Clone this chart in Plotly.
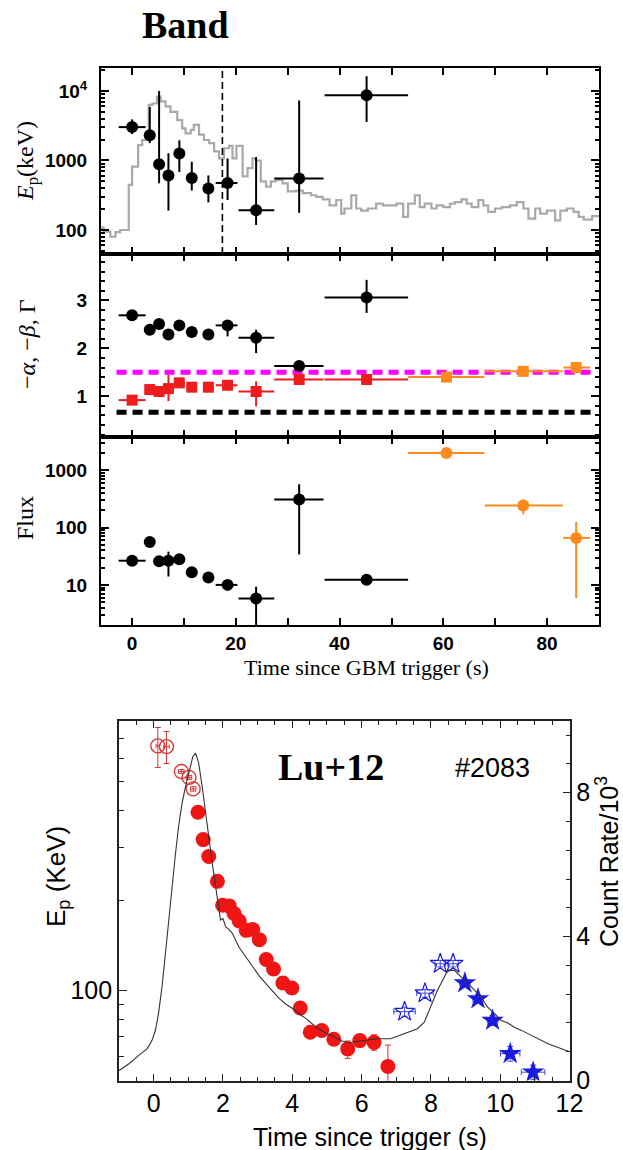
import math
import plotly.graph_objects as go

W, H = 623, 1150

# ---------------- Upper figure: Band-function time-resolved fit ----------------
# time bins (s): centre, lower and upper edge
t_band = [0.0, 3.4, 5.2, 7.0, 9.1, 11.5, 14.7, 18.4, 23.9, 32.2, 45.2]
t_band_lo = [-2.6, 2.4, 4.2, 6.0, 8.1, 10.5, 13.7, 16.1, 20.5, 27.4, 37.1]
t_band_hi = [2.6, 4.4, 6.2, 8.0, 10.1, 12.5, 15.7, 20.3, 27.4, 36.9, 53.2]

# peak energy (keV)
ep_band = [3020, 2300, 880, 610, 1260, 560, 395, 475, 192, 550, 8650]
ep_band_hi = [3900, 5900, 10000, 1270, 1950, 960, 610, 1070, 1120, 7300, 16300]
ep_band_lo = [2400, 1780, 470, 190, 685, 370, 250, 270, 118, 177, 3580]

# -beta (black) and -alpha (red)
beta = [2.69, 2.39, 2.51, 2.29, 2.48, 2.34, 2.29, 2.48, 2.22, 1.63, 3.06]
beta_hi = [2.75, 2.45, 2.58, 2.35, 2.54, 2.40, 2.35, 2.55, 2.39, 1.66, 3.43]
beta_lo = [2.63, 2.33, 2.44, 2.23, 2.42, 2.28, 2.23, 2.25, 1.90, 1.60, 2.74]
alpha = [0.92, 1.14, 1.10, 1.16, 1.28, 1.19, 1.19, 1.23, 1.10, 1.35, 1.35]
alpha_hi = [0.96, 1.19, 1.15, 1.45, 1.33, 1.24, 1.24, 1.28, 1.31, 1.40, 1.40]
alpha_lo = [0.88, 1.09, 1.05, 0.90, 1.23, 1.14, 1.14, 1.18, 0.79, 1.30, 1.30]

# flux
flux_band = [26.4, 56, 25.8, 26.4, 28, 16.6, 13.5, 10, 5.8, 310, 12.3]
flux_band_hi = [29, 61, 28, 38, 31, 18.2, 15, 11, 9.3, 570, 13.5]
flux_band_lo = [24, 51, 23.5, 14, 25.5, 15, 12, 9, 1.5, 34, 11.2]

# power-law segments (orange)
t_pl = [60.6, 75.4, 85.6]
t_pl_lo = [53.2, 68.0, 83.1]
t_pl_hi = [67.9, 83.0, 88.3]
gamma_pl = [1.40, 1.52, 1.60]
gamma_pl_err = [0.05, 0.05, 0.05]
flux_pl = [1990, 243, 66]
flux_pl_hi = [2150, 310, 125]
flux_pl_lo = [1850, 170, 5.9]

# synchrotron reference indices
sync_index_magenta = 1.5
sync_index_black = 0.667
sync_span = [-3.0, 88.7]
t_marker = 17.4

# count light curve (arbitrary units on the Ep axis), step start times
lc_t = [-6.0, -5.5, -4.2, -3.2, -2.3, -0.65, 0.0, 1.15, 1.95, 3.2, 3.9, 4.8, 5.5,
        6.45, 7.4, 8.7, 9.65, 10.3, 11.3, 11.9, 12.9, 13.85, 14.85, 15.8, 16.75,
        17.7, 18.7, 19.35, 20.1, 21.3, 22.25, 23.2, 23.85, 24.8, 25.8, 26.75, 27.7,
        29.0, 30.0, 31.6, 32.9, 34.5, 35.5, 36.75, 38.05, 39.35, 40.3, 40.95, 42.25,
        43.2, 44.15, 45.45, 47.05, 48.35, 49.65, 50.95, 52.25, 53.2, 54.5, 55.45,
        56.4, 57.7, 58.7, 60.0, 61.25, 62.2, 63.5, 64.5, 65.45, 66.75, 67.7, 68.65,
        69.95, 71.25, 72.85, 74.15, 75.45, 76.4, 77.7, 78.65, 79.95, 81.55, 82.55,
        83.8, 85.1, 86.1, 87.05, 88.65]
lc_val = [108, 95, 80, 93, 100, 445, 815, 1660, 1970, 6300, 6600, 8300, 7100,
          6000, 5000, 3800, 2900, 2450, 2750, 3250, 2350, 1970, 1780, 1350, 1070,
          1500, 1620, 1070, 1620, 590, 775, 1070, 1000, 500, 420, 500, 525,
          470, 360, 370, 340, 316, 300, 275, 226, 270, 172, 204, 316,
          204, 190, 204, 240, 226, 226, 240, 155, 240, 316, 214,
          240, 204, 226, 214, 240, 251, 275, 240, 214, 270, 226, 182,
          204, 214, 226, 251, 204, 146, 204, 172, 190, 138, 190,
          204, 182, 155, 141, 158]
lc_end = 90.0

# ---------------- Lower figure: Lu+12, burst #2083 ----------------
t_open = [0.12, 0.37, 0.80, 1.02, 1.14]
ep_open = [659, 655, 541, 517, 473]
ep_open_up = [100, 81, 8, 8, 8]
ep_open_dn = [101, 80, 8, 8, 8]
t_open_err = [0.05, 0.08, 0.08, 0.08, 0.08]

t_fill = [1.28, 1.43, 1.59, 1.84, 1.99, 2.18, 2.32, 2.47, 2.67, 2.86, 3.05, 3.25,
          3.46, 3.73, 3.99, 4.23, 4.52, 4.85, 5.2, 5.6, 5.95, 6.36, 6.76]
ep_fill = [395, 320, 281, 232, 193, 192, 181, 171, 159, 160, 148, 127,
           118, 106, 102, 87.4, 72.5, 73.5, 68.7, 63.8, 68, 67.1, 55.7]
ep_fill_up = [0, 0, 0, 0, 0, 0, 0, 0, 0, 0, 3, 0, 0, 0, 0, 0, 0, 0, 0, 4, 0, 4, 10]
ep_fill_dn = [0, 0, 0, 0, 0, 0, 0, 0, 0, 0, 3, 0, 0, 0, 0, 0, 0, 0, 0, 4.5, 0, 4, 6]

t_star_open = [7.24, 7.83, 8.27, 8.64]
ep_star_open = [85, 98, 123, 123]
t_star_open_err = [0.31, 0.24, 0.15, 0.15]
ep_star_open_err = [3, 3, 3, 3]

t_star = [8.98, 9.36, 9.78, 10.29, 10.95]
ep_star = [106, 93.8, 79.4, 61.5, 53.3]
t_star_err = [0.15, 0.15, 0.15, 0.28, 0.34]
ep_star_err = [3, 3, 3, 3.5, 3]

# count rate (10^3 counts/s)
cr_t = [-1.0, -0.72, -0.43, -0.19, -0.05, 0.05, 0.14, 0.24, 0.34, 0.43, 0.53, 0.63,
        0.72, 0.82, 0.92, 1.03, 1.13, 1.21, 1.30, 1.40, 1.50, 1.59, 1.69, 1.79,
        1.88, 1.93, 2.0, 2.08, 2.15, 2.27, 2.46, 2.65, 2.85, 3.05, 3.24, 3.43, 3.62,
        3.82, 4.01, 4.2, 4.40, 4.69, 5.0, 5.2, 5.39, 5.6, 5.78, 6.1, 6.45, 6.84,
        7.23, 7.61, 7.81, 8.0, 8.19, 8.39, 8.48, 8.68, 8.87, 9.06, 9.26, 9.45,
        9.64, 9.84, 10.03, 10.22, 10.41, 10.6, 10.80, 11.1, 11.38, 11.77, 12.0]
cr_val = [0.28, 0.46, 0.70, 0.88, 1.11, 1.39, 1.86, 2.60, 3.53, 4.46, 5.38, 6.31,
          7.06, 7.71, 8.17, 8.63, 9.0, 9.1, 8.82, 8.17, 7.43, 6.69, 6.04, 5.38,
          4.83, 4.46, 4.50, 4.27, 4.22, 4.09, 3.71, 3.45, 3.16, 2.90, 2.69, 2.47, 2.28,
          2.12, 2.0, 1.85, 1.72, 1.48, 1.30, 1.22, 1.11, 1.05, 1.07, 1.12, 1.16, 1.16,
          1.30, 1.44, 1.62, 2.04, 2.51, 2.88, 3.06, 3.06, 2.88, 2.72, 2.51, 2.30,
          2.04, 1.86, 1.67, 1.60, 1.48, 1.40, 1.30, 1.14, 1.02, 0.88, 0.80]

# ---------------- styling helpers ----------------
BLACK = "#000000"
RED = "#ee1c1c"
ORANGE = "#ff8a1c"
MAGENTA = "#ff00ff"
GREY = "#a9a9a9"
BLUE = "#1a1ae0"


def dom_x(p0, p1):
    return [p0 / W, p1 / W]


def dom_y(top, bottom):
    return [1 - bottom / H, 1 - top / H]


def minus(a, b):
    return [x - y for x, y in zip(a, b)]


def log_minor(lo, hi):
    vals = []
    for e in range(lo, hi + 1):
        for m in range(2, 10):
            vals.append(m * 10 ** e)
    return vals


fig = go.Figure()

# ---- panel 1: Ep ----
fig.add_trace(go.Scatter(
    x=lc_t + [lc_end], y=lc_val + [lc_val[-1]], mode="lines", line_shape="hv",
    line=dict(color=GREY, width=2.2), xaxis="x", yaxis="y", showlegend=False))
fig.add_trace(go.Scatter(
    x=t_band, y=ep_band, mode="markers", xaxis="x", yaxis="y", showlegend=False,
    marker=dict(color=BLACK, size=12, symbol="circle"),
    error_x=dict(type="data", symmetric=False, array=minus(t_band_hi, t_band),
                 arrayminus=minus(t_band, t_band_lo), color=BLACK, thickness=2, width=0),
    error_y=dict(type="data", symmetric=False, array=minus(ep_band_hi, ep_band),
                 arrayminus=minus(ep_band, ep_band_lo), color=BLACK, thickness=2, width=0)))

# ---- panel 2: spectral indices ----
fig.add_trace(go.Scatter(
    x=sync_span, y=[sync_index_black] * 2, mode="lines", xaxis="x2", yaxis="y2",
    line=dict(color=BLACK, width=5, dash="10px,6px"), showlegend=False))
fig.add_trace(go.Scatter(
    x=sync_span, y=[sync_index_magenta] * 2, mode="lines", xaxis="x2", yaxis="y2",
    line=dict(color=MAGENTA, width=5, dash="10px,6px"), showlegend=False))
fig.add_trace(go.Scatter(
    x=t_band, y=beta, mode="markers", xaxis="x2", yaxis="y2", showlegend=False,
    marker=dict(color=BLACK, size=12, symbol="circle"),
    error_x=dict(type="data", symmetric=False, array=minus(t_band_hi, t_band),
                 arrayminus=minus(t_band, t_band_lo), color=BLACK, thickness=2, width=0),
    error_y=dict(type="data", symmetric=False, array=minus(beta_hi, beta),
                 arrayminus=minus(beta, beta_lo), color=BLACK, thickness=2, width=0)))
fig.add_trace(go.Scatter(
    x=t_band, y=alpha, mode="markers", xaxis="x2", yaxis="y2", showlegend=False,
    marker=dict(color=RED, size=11, symbol="square"),
    error_x=dict(type="data", symmetric=False, array=minus(t_band_hi, t_band),
                 arrayminus=minus(t_band, t_band_lo), color=RED, thickness=2, width=0),
    error_y=dict(type="data", symmetric=False, array=minus(alpha_hi, alpha),
                 arrayminus=minus(alpha, alpha_lo), color=RED, thickness=2, width=0)))
fig.add_trace(go.Scatter(
    x=t_pl, y=gamma_pl, mode="markers", xaxis="x2", yaxis="y2", showlegend=False,
    marker=dict(color=ORANGE, size=11, symbol="square"),
    error_x=dict(type="data", symmetric=False, array=minus(t_pl_hi, t_pl),
                 arrayminus=minus(t_pl, t_pl_lo), color=ORANGE, thickness=2, width=0),
    error_y=dict(type="data", array=gamma_pl_err, color=ORANGE, thickness=2, width=0)))

# ---- panel 3: flux ----
fig.add_trace(go.Scatter(
    x=t_band, y=flux_band, mode="markers", xaxis="x3", yaxis="y3", showlegend=False,
    marker=dict(color=BLACK, size=12, symbol="circle"),
    error_x=dict(type="data", symmetric=False, array=minus(t_band_hi, t_band),
                 arrayminus=minus(t_band, t_band_lo), color=BLACK, thickness=2, width=0),
    error_y=dict(type="data", symmetric=False, array=minus(flux_band_hi, flux_band),
                 arrayminus=minus(flux_band, flux_band_lo), color=BLACK, thickness=2, width=0)))
fig.add_trace(go.Scatter(
    x=t_pl, y=flux_pl, mode="markers", xaxis="x3", yaxis="y3", showlegend=False,
    marker=dict(color=ORANGE, size=12, symbol="circle"),
    error_x=dict(type="data", symmetric=False, array=minus(t_pl_hi, t_pl),
                 arrayminus=minus(t_pl, t_pl_lo), color=ORANGE, thickness=2, width=0),
    error_y=dict(type="data", symmetric=False, array=minus(flux_pl_hi, flux_pl),
                 arrayminus=minus(flux_pl, flux_pl_lo), color=ORANGE, thickness=2, width=0)))

# ---- lower figure ----
fig.add_trace(go.Scatter(
    x=cr_t, y=cr_val, mode="lines", xaxis="x4", yaxis="y5", showlegend=False,
    line=dict(color="#333333", width=1.1)))
fig.add_trace(go.Scatter(
    x=t_open, y=ep_open, mode="markers", xaxis="x4", yaxis="y4", showlegend=False,
    marker=dict(symbol="circle-open", size=14, color="#d83535", line=dict(width=1.4)),
    error_x=dict(type="data", array=t_open_err, color="#d83535", thickness=1, width=2),
    error_y=dict(type="data", symmetric=False, array=ep_open_up, arrayminus=ep_open_dn,
                 color="#d83535", thickness=1, width=3)))
fig.add_trace(go.Scatter(
    x=t_fill, y=ep_fill, mode="markers", xaxis="x4", yaxis="y4", showlegend=False,
    marker=dict(symbol="circle", size=15, color="#f01515"),
    error_y=dict(type="data", symmetric=False, array=ep_fill_up, arrayminus=ep_fill_dn,
                 color="#e03030", thickness=1, width=3)))
fig.add_trace(go.Scatter(
    x=t_star_open, y=ep_star_open, mode="markers", xaxis="x4", yaxis="y4", showlegend=False,
    marker=dict(symbol="star-open", size=15, color=BLUE, line=dict(width=1.2)),
    error_x=dict(type="data", array=t_star_open_err, color="#4a4ae0", thickness=1, width=3),
    error_y=dict(type="data", array=ep_star_open_err, color="#4a4ae0", thickness=1, width=3)))
fig.add_trace(go.Scatter(
    x=t_star, y=ep_star, mode="markers", xaxis="x4", yaxis="y4", showlegend=False,
    marker=dict(symbol="star", size=17, color=BLUE),
    error_x=dict(type="data", array=t_star_err, color="#4a4ae0", thickness=1, width=3),
    error_y=dict(type="data", array=ep_star_err, color="#4a4ae0", thickness=1, width=3)))

# ---------------- axes ----------------
top_tick_font = dict(family="Liberation Sans", size=19, color=BLACK, weight="bold")
xd_top = dom_x(101, 599)
common_top = dict(showline=True, linecolor=BLACK, linewidth=2, mirror="ticks",
                  ticks="inside", tickcolor=BLACK, tickwidth=2, showgrid=False,
                  zeroline=False, tickfont=top_tick_font, automargin=False)

for i, (name, yname) in enumerate([("xaxis", "y"), ("xaxis2", "y2"), ("xaxis3", "y3")]):
    fig.layout[name] = dict(common_top, domain=xd_top, anchor=yname, range=[-6, 90],
                            tickvals=[0, 20, 40, 60, 80], ticklen=7,
                            showticklabels=(i == 2),
                            minor=dict(dtick=10, tick0=0, ticks="inside", ticklen=7,
                                       tickwidth=2, tickcolor=BLACK))

fig.layout["yaxis"] = dict(common_top, domain=dom_y(68, 254), anchor="x", type="log",
                           range=[1.655, 4.33], tickvals=[100, 1000, 10000],
                           ticktext=["100", "1000", "10<sup>4</sup>"], ticklen=8,
                           ticklabelstandoff=8,
                           minor=dict(tickvals=log_minor(1, 4), ticks="inside",
                                      ticklen=4, tickwidth=1.5, tickcolor=BLACK))
fig.layout["yaxis2"] = dict(common_top, domain=dom_y(254, 437), anchor="x2",
                            range=[0.15, 3.97], tickvals=[1, 2, 3], ticklen=8,
                            ticklabelstandoff=8,
                            minor=dict(dtick=0.2, tick0=0, ticks="inside", ticklen=4,
                                       tickwidth=1.5, tickcolor=BLACK))
fig.layout["yaxis3"] = dict(common_top, domain=dom_y(437, 625), anchor="x3", type="log",
                            range=[0.3, 3.58], tickvals=[10, 100, 1000],
                            ticktext=["10", "100", "1000"], ticklen=8,
                            ticklabelstandoff=8,
                            minor=dict(tickvals=log_minor(0, 3), ticks="inside",
                                       ticklen=4, tickwidth=1.5, tickcolor=BLACK))

low_font = dict(family="Liberation Sans", size=25, color=BLACK)
fig.layout["xaxis4"] = dict(domain=dom_x(119, 569.5), anchor="y4", range=[-1, 12],
                            showline=True, linecolor="#222222", linewidth=1.6,
                            mirror="ticks", ticks="inside", ticklen=7, tickwidth=1.3,
                            tickcolor="#222222", tickvals=[0, 2, 4, 6, 8, 10, 12],
                            tickfont=low_font, showgrid=False, zeroline=False,
                            automargin=False,
                            minor=dict(dtick=0.5, tick0=0, ticks="inside", ticklen=4,
                                       tickwidth=1.2, tickcolor="#222222"))
fig.layout["yaxis4"] = dict(domain=dom_y(720.7, 1080.5), anchor="x4", type="log",
                            range=[math.log10(50), math.log10(800)], showline=True,
                            linecolor="#222222", linewidth=1.6, mirror=False,
                            ticks="inside", ticklen=8, tickwidth=1.3, tickcolor="#222222",
                            tickvals=[100], ticktext=["100"], tickfont=low_font,
                            showgrid=False, zeroline=False, automargin=False,
                            minor=dict(tickvals=[60, 70, 80, 90, 200, 300, 400, 500, 600, 700],
                                       ticks="inside", ticklen=5, tickwidth=1.2,
                                       tickcolor="#222222"))
fig.layout["yaxis5"] = dict(overlaying="y4", anchor="x4", side="right", range=[0, 10],
                            showline=True, linecolor="#222222", linewidth=1.6,
                            ticks="inside", ticklen=7, tickwidth=1.3, tickcolor="#222222",
                            tickvals=[0, 4, 8], tickfont=low_font, showgrid=False,
                            zeroline=False, automargin=False,
                            minor=dict(dtick=0.8, tick0=0, ticks="inside", ticklen=4,
                                       tickwidth=1.2, tickcolor="#222222"))

# ---------------- reference marks ----------------
fig.add_shape(type="line", xref="x", yref="y domain", x0=t_marker, x1=t_marker, y0=0, y1=1,
              line=dict(color=BLACK, width=1.6, dash="7px,4px"))

# ---------------- text ----------------
serif = "Liberation Serif"


def note(text, px, py, size, family, angle=0, bold=False, color=BLACK):
    fig.add_annotation(text=text, x=px / W, y=1 - py / H, xref="paper", yref="paper",
                       showarrow=False, textangle=angle, xanchor="center", yanchor="middle",
                       font=dict(family=family, size=size, color=color,
                                 weight="bold" if bold else "normal"))


note("Band", 185, 25, 38, serif, bold=True)
note("<i>E</i><sub>p</sub>(keV)", 27, 161, 24, serif, angle=-90)
note("−<i>α</i>, −<i>β</i>, Γ", 27, 344, 24, serif, angle=-90)
note("Flux", 25, 518, 24, serif, angle=-90)
note("Time since GBM trigger (s)", 367, 667, 22, serif)

note("Lu+12", 331, 767, 38, serif, bold=True)
note("#2083", 492, 768, 27, "Liberation Sans")
note("E<sub>p</sub> (KeV)", 57, 877, 26, "Liberation Sans", angle=-90)
note("Count Rate/10<sup>3</sup>", 607, 862, 25, "Liberation Sans", angle=-90)
note("Time since trigger (s)", 370, 1137, 25, "Liberation Sans")

fig.update_layout(width=W, height=H, margin=dict(l=0, r=0, t=0, b=0),
                  paper_bgcolor="white", plot_bgcolor="white", showlegend=False)

fig.write_html("out.html")
